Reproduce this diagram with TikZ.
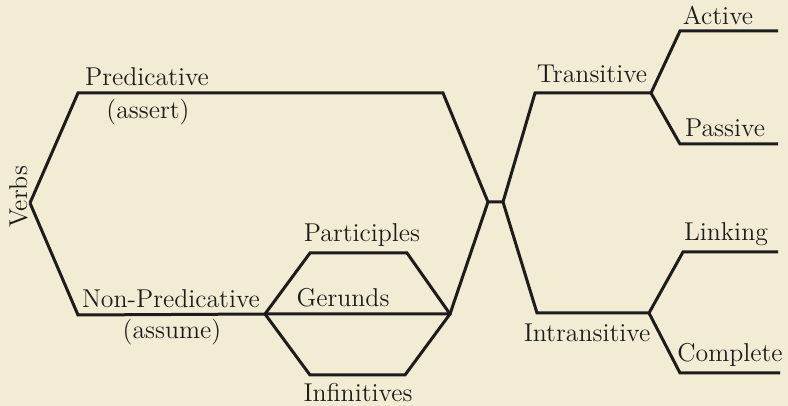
\documentclass[tikz,border=0pt]{standalone}
\usepackage{xcolor}
\definecolor{paper}{RGB}{242,236,212}
\definecolor{ink}{RGB}{28,28,28}
\tikzset{
  vline/.style ={draw=ink, line width=1.5pt, line join=miter},
  vlab/.style  ={text=ink, inner sep=0pt, anchor=base,
                 font=\fontsize{12.9}{15}\selectfont},
}
\begin{document}
\begin{tikzpicture}[x=0.5pt, y=-0.5pt]
\fill[paper] (0,0) rectangle (788,406);
\useasboundingbox (0,0) rectangle (788,406);

\coordinate (verbs) at (30,203);
\coordinate (pre1) at (78,93);
\coordinate (pre2) at (443,93);
\coordinate (np1)  at (78,315);
\coordinate (hexl) at (265,314);
\coordinate (hextl) at (310,253);
\coordinate (hextr) at (407,253);
\coordinate (hexr) at (450,314);
\coordinate (hexbr) at (405,375);
\coordinate (hexbl) at (310,375);
\coordinate (crossl) at (488,202);
\coordinate (crossr) at (503,202);
\coordinate (tr1) at (535,93);
\coordinate (tr2) at (651,93);
\coordinate (act1) at (680,31);
\coordinate (act2) at (778,31);
\coordinate (pas1) at (680,144);
\coordinate (pas2) at (778,144);
\coordinate (intr1) at (537,313);
\coordinate (intr2) at (649,313);
\coordinate (lnk1) at (683,252);
\coordinate (lnk2) at (778,252);
\coordinate (cmp1) at (680,373);
\coordinate (cmp2) at (780,373);

\draw[vline] (verbs) -- (pre1) -- (pre2) -- (crossl) -- (crossr) -- (tr1) -- (tr2);
\draw[vline] (verbs) -- (np1) -- (hexl) -- (hexr) -- (crossl);
\draw[vline] (hexl) -- (hextl) -- (hextr) -- (hexr) -- (hexbr) -- (hexbl) -- cycle;
\draw[vline] (crossr) -- (intr1) -- (intr2);
\draw[vline] (tr2) -- (act1) -- (act2);
\draw[vline] (tr2) -- (pas1) -- (pas2);
\draw[vline] (intr2) -- (lnk1) -- (lnk2);
\draw[vline] (intr2) -- (cmp1) -- (cmp2);

\node[vlab, rotate=90] (verbslab) at (27,197) {Verbs};
\node[vlab] (predlab) at (147,86) {Predicative};
\node[vlab] (assertlab) at (148,119) {(assert)};
\node[vlab] (nonpredlab) at (171,308) {Non-Predicative};
\node[vlab] (assumelab) at (172,339) {(assume)};
\node[vlab] (partlab) at (362,242) {Participles};
\node[vlab] (gerlab) at (343,307) {Gerunds};
\node[vlab] (inflab) at (358,402) {Infinitives};
\node[vlab] (translab) at (592,83) {Transitive};
\node[vlab] (actlab) at (718,25) {Active};
\node[vlab] (paslab) at (725,137) {Passive};
\node[vlab] (intrlab) at (587,342) {Intransitive};
\node[vlab] (lnklab) at (726,241) {Linking};
\node[vlab] (cmplab) at (730,362) {Complete};
\end{tikzpicture}
\end{document}
